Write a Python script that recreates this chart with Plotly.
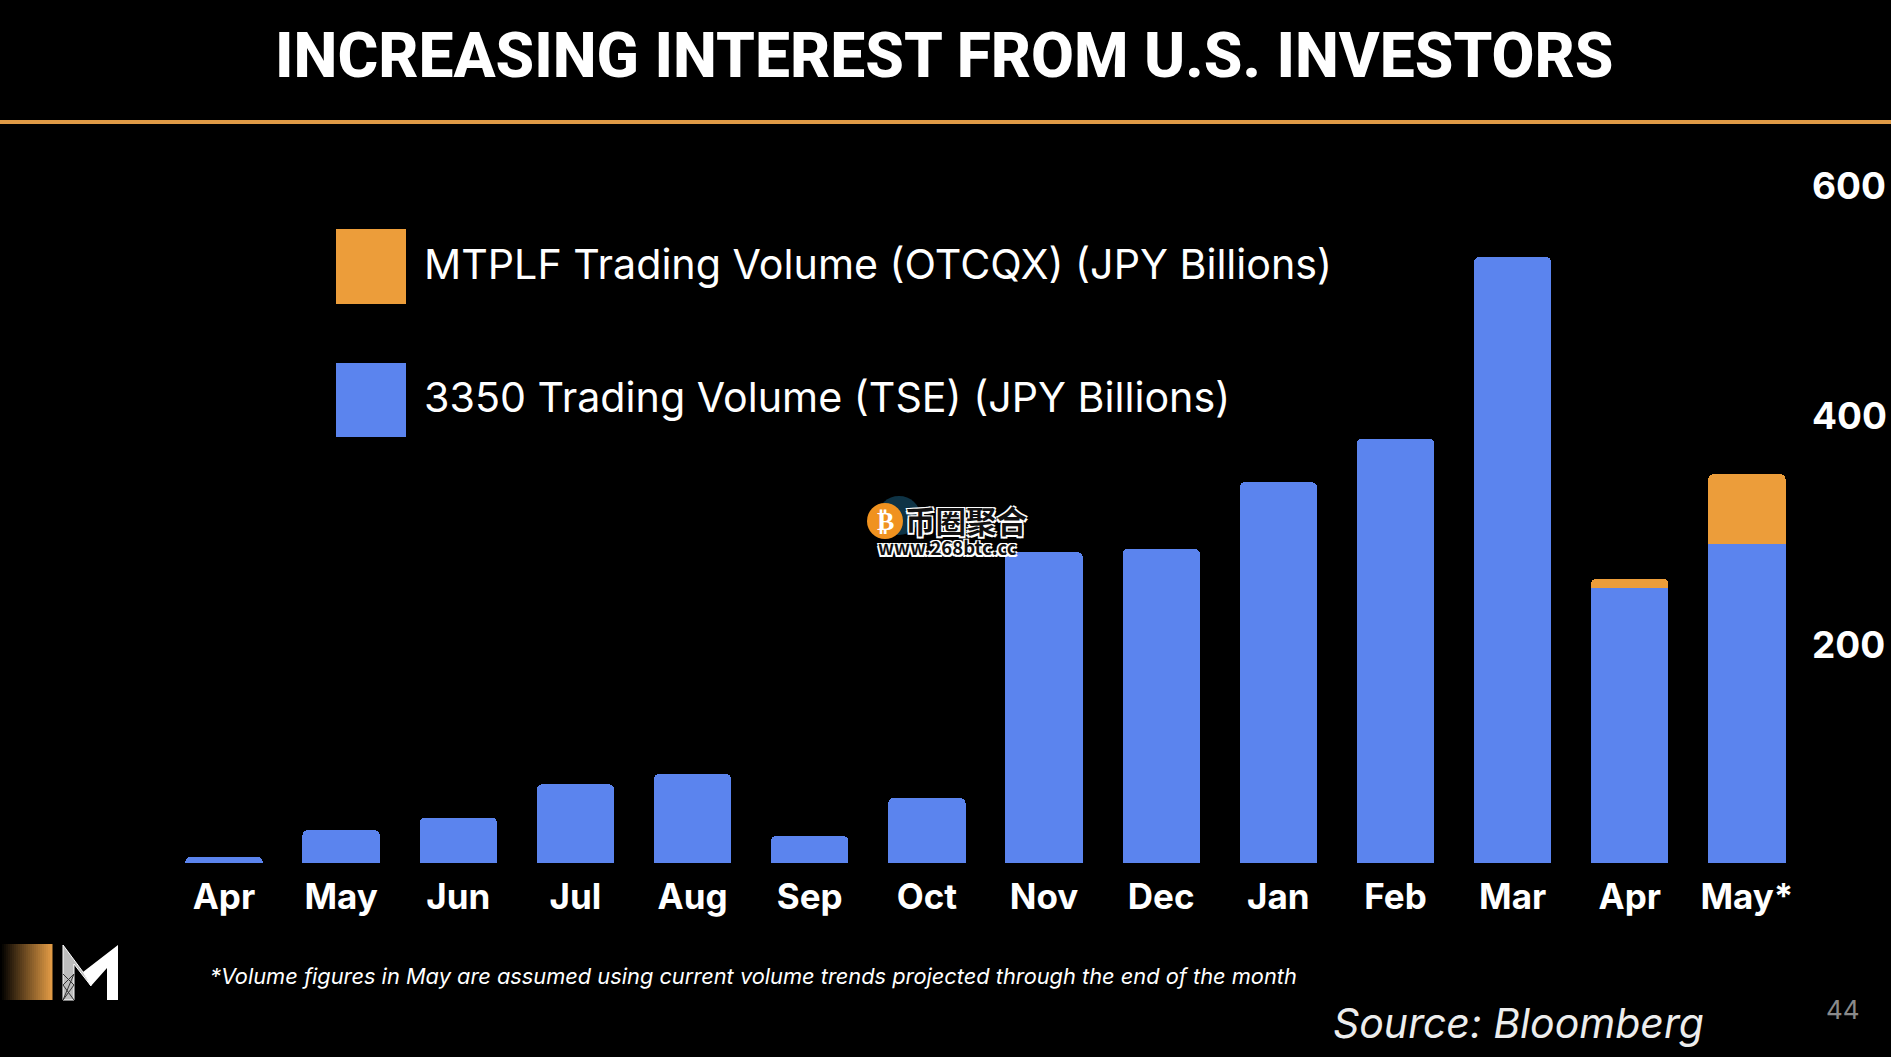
import plotly.graph_objects as go

# Monthly trading volume in JPY billions
months = ['Apr', 'May', 'Jun', 'Jul', 'Aug', 'Sep', 'Oct', 'Nov', 'Dec', 'Jan', 'Feb', 'Mar', 'Apr', 'May*']
tse_volume = [16, 39, 50, 79, 88, 34, 67, 281, 284, 342, 380, 538, 250, 288]
otc_volume = [0, 0, 0, 0, 0, 0, 0, 0, 0, 0, 0, 0, 8, 61]
y_ticks = [200, 400, 600]

BLUE = '#5B84EE'
ORANGE = '#EC9D3A'
FONT = 'Inter'

W, H = 1891, 1057
L, R, T, B = 100, 100, 140, 194


def px(x):
    return (x - L) / (W - L - R)


def py(y):
    return 1 - (y - T) / (H - T - B)


def rect(x0, y0, x1, y1, color):
    return dict(type='rect', xref='paper', yref='paper', x0=px(x0), y0=py(y0), x1=px(x1), y1=py(y1),
                fillcolor=color, line_width=0, layer='above')


def path(points, fill='white', line=None, width=0):
    d = 'M' + 'L'.join(f'{px(a):.5f},{py(b):.5f}' for a, b in points)
    return dict(type='path', xref='paper', yref='paper', path=d + ('Z' if fill else ''),
                fillcolor=fill, line=dict(color=line or 'rgba(0,0,0,0)', width=width), layer='above')


def text(x, y, s, size, color='white', anchor='left', **font):
    return dict(xref='paper', yref='paper', x=px(x), y=py(y), text=s, showarrow=False, xanchor=anchor,
                yanchor='middle', font=dict(family=font.pop('family', FONT), size=size, color=color, **font))


x_pos = list(range(len(months)))
fig = go.Figure()
fig.add_trace(go.Bar(x=x_pos, y=tse_volume, name='3350 Trading Volume (TSE) (JPY Billions)',
                     marker=dict(color=BLUE, line_width=0)))
fig.add_trace(go.Bar(x=x_pos, y=otc_volume, name='MTPLF Trading Volume (OTCQX) (JPY Billions)',
                     marker=dict(color=ORANGE, cornerradius=5, line_width=0)))

shapes = [
    rect(0, 120, W, 124, '#E09A45'),
    rect(336, 229, 406, 304, ORANGE),
    rect(336, 363, 406, 437, BLUE),
    # watermark badge
    dict(type='circle', xref='paper', yref='paper', x0=px(878), y0=py(535), x1=px(920), y1=py(496),
         fillcolor='#0E3345', line_width=0, layer='above'),
    dict(type='circle', xref='paper', yref='paper', x0=px(867), y0=py(539), x1=px(903), y1=py(503),
         fillcolor='#F0921F', line_width=0, layer='above'),
    # logo M
    path([(118, 945), (118, 1000), (107, 1000), (107, 968), (91, 986), (83, 972)]),
    path([(63, 945), (83, 972), (91, 986), (74, 964), (74, 1000), (63, 1000)], fill='#BDBDBD', line='white', width=1),
    path([(63, 974), (74, 985), (63, 1000), (74, 974), (63, 985), (74, 1000)], fill=None, line='#333333', width=1),
]
# gradient block of the logo
for i in range(26):
    k = i / 25
    shapes.append(rect(i * 2, 944, i * 2 + 2.5, 1000,
                       f'rgb({int(224 * k)},{int(154 * k)},{int(69 * k)})'))

halo = '1.5px 1.5px 0 white, -1.5px -1.5px 0 white, 1.5px -1.5px 0 white, -1.5px 1.5px 0 white'
annotations = [
    text(944, 56, 'INCREASING INTEREST FROM U.S. INVESTORS', 62.3, anchor='center', family='Roboto', weight=800),
    text(422, 264, 'MTPLF Trading Volume (OTCQX) (JPY Billions)', 41.2),
    text(422, 397, '3350 Trading Volume (TSE) (JPY Billions)', 41.2),
    text(208, 976, '*Volume figures in May are assumed using current volume trends projected through the end of the month',
         21.8, style='italic'),
    text(1331, 1023, 'Source: Bloomberg', 41, style='italic', color='#EDEDED'),
    text(1843, 1009, '44', 26, color='#8A8A8A', anchor='center'),
    text(885, 521, '₿', 26, family='DejaVu Sans', anchor='center', weight=700),
    text(966, 520, '币圈聚合', 30.5, color='#111111', anchor='center', family='Noto Sans CJK SC', weight=700, shadow=halo),
    text(947, 547, 'www.268btc.cc', 18.5, color='#111111', anchor='center', family='Noto Sans CJK SC', weight=700,
         shadow=halo),
]

fig.update_layout(
    width=W, height=H, margin=dict(l=L, r=R, t=T, b=B, pad=0),
    barmode='stack', bargap=0.34, showlegend=False,
    paper_bgcolor='black', plot_bgcolor='black',
    font=dict(family=FONT, color='white'),
    shapes=shapes, annotations=annotations,
    xaxis=dict(range=[-1.058, 13.376], tickmode='array', tickvals=x_pos, ticktext=months, showgrid=False,
               zeroline=False, showline=False, ticks='', ticklabelstandoff=10, automargin=False,
               tickfont=dict(size=35, color='white', weight=700)),
    yaxis=dict(side='right', range=[10.5, 640], tickmode='array', tickvals=y_ticks, showgrid=False,
               zeroline=False, showline=False, ticks='', ticklabelstandoff=20, automargin=False,
               tickfont=dict(size=37, color='white', weight=700)),
)

# the page has a default body margin, drop it so the figure fills the window
fig.write_html('out.html', config={'displayModeBar': False},
               post_script='document.body.style.margin = "0";')
